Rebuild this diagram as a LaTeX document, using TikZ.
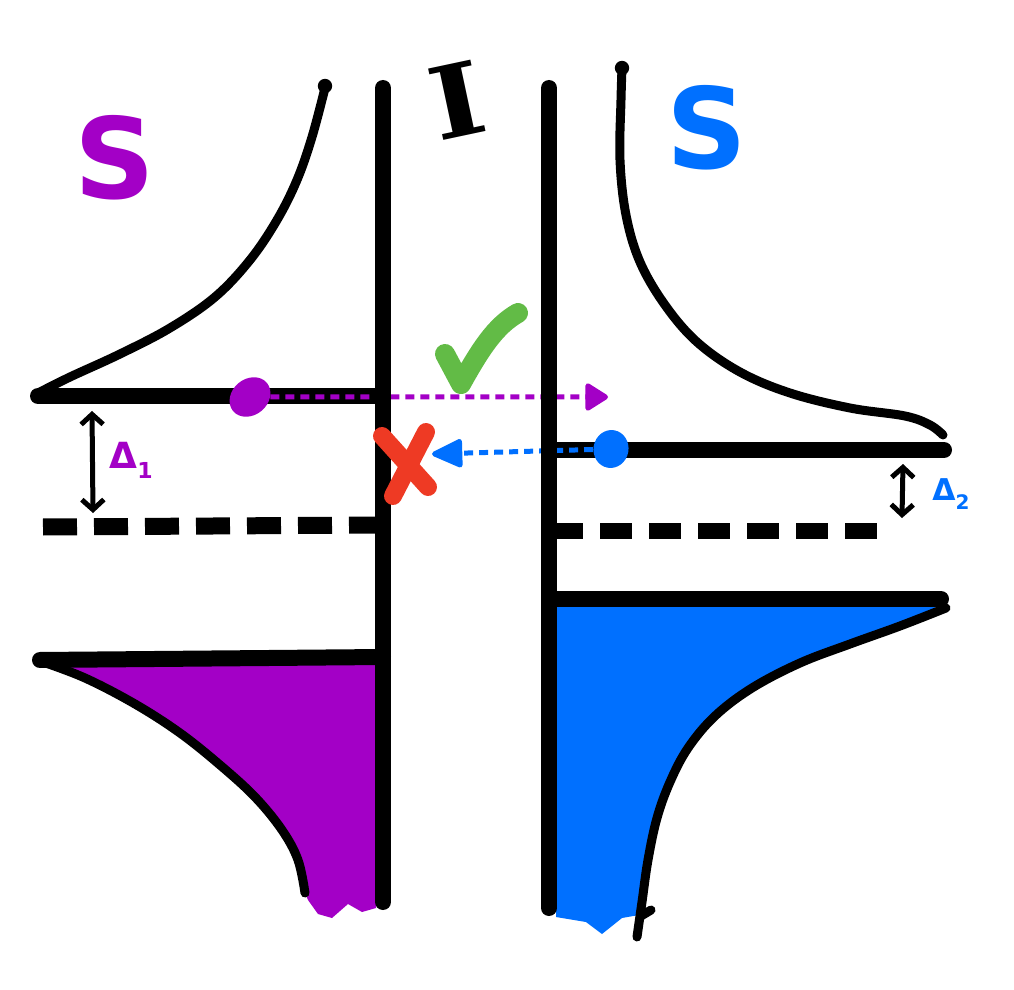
\documentclass[tikz,border=0pt]{standalone}
\usepackage{fontspec}
\usetikzlibrary{arrows.meta,shapes.geometric}
\newfontfamily\dvsans{DejaVu Sans}
\newfontfamily\dvserif{DejaVu Serif}
\definecolor{pur}{RGB}{163,0,198}
\definecolor{blu}{RGB}{0,112,255}
\definecolor{grn}{RGB}{98,187,70}
\definecolor{rd}{RGB}{238,58,36}
\tikzset{
 thickline/.style={line width=8pt, line cap=round, line join=round},
 thinline/.style={line width=4.5pt, line cap=round, line join=round},
 fermi/.style={line width=8.5pt},
 gaparrow/.style={line width=2.5pt, {Straight Barb[length=5pt,width=11pt]}-{Straight Barb[length=5pt,width=11pt]}},
 tunnel/.style={line width=2.5pt, dash pattern=on 4.5pt off 3pt},
 handmark/.style={line cap=round, line join=round},
 dotshape/.style={ellipse, inner sep=0pt, draw=none},
 biglabel/.style={inner sep=0pt, font=\dvsans\bfseries\fontsize{56}{60}\selectfont},
 gaplabel/.style={inner sep=0pt, font=\dvsans\bfseries\fontsize{18}{20}\selectfont},
}
\begin{document}
\begin{tikzpicture}[x=0.5pt,y=-0.5pt]
\useasboundingbox (0,0) rectangle (1014,990);
\fill[white] (0,0) rectangle (1014,990);

% filled (occupied) states
\fill[pur] (70,667) -- (376,664) -- (376,908) -- (362,912) -- (348,904) -- (332,918) -- (318,914) -- (308,900)
  -- plot[smooth,tension=0.6] coordinates {(305,893) (298,860) (282,830) (255,797) (220,765) (180,733) (135,704) (85,678) (70,671)} -- cycle;
\fill[blu] (556,603) -- (935,605)
  -- plot[smooth,tension=0.6] coordinates {(935,612) (900,626) (850,644) (800,663) (752,688) (715,716) (688,748) (670,782) (657,818) (648,860) (642,902) (639,915)}
  -- (622,918) -- (602,934) -- (586,922) -- (556,917) -- cycle;

% density of states curves
\draw[thinline] plot[smooth, tension=0.6] coordinates {(325,88) (312,137) (297,180) (277,220) (250,260) (215,297) (170,328) (120,354) (70,377) (40,392)};
\fill (325,86) circle (3.6pt);
\draw[thinline] plot[smooth, tension=0.6] coordinates {(622,68) (621,100) (620,160) (626,215) (640,262) (665,305) (697,342) (740,372) (790,393) (850,408) (905,416) (930,425) (943,435)};
\fill (622,68) circle (3.6pt);
\draw[thinline] plot[smooth, tension=0.6] coordinates {(40,661) (85,678) (135,704) (180,733) (220,765) (255,797) (282,830) (298,860) (305,893)};
\draw[thinline] plot[smooth, tension=0.6] coordinates {(946,608) (900,626) (850,644) (800,663) (752,688) (715,716) (688,748) (670,782) (657,818) (648,860) (642,902) (637,937)};
\draw[thinline] (641,916) -- (651,910);

% gap edges
\draw[thickline] (38,396) -- (383,396);
\draw[thickline] (40,660) -- (383,657);
\draw[thickline] (549,450) -- (944,450);
\draw[thickline] (549,599) -- (941,599);

% Fermi levels
\draw[fermi, dash pattern=on 17pt off 8.5pt] (43,527) -- (383,525);
\draw[fermi, line width=8pt, dash pattern=on 16pt off 8.5pt] (551,531) -- (878,531);

% gap arrows
\coordinate (d1top) at (92,411);
\coordinate (d1bot) at (93,513);
\draw[gaparrow] (d1top) -- (d1bot);
\coordinate (d2top) at (903,464);
\coordinate (d2bot) at (902,518);
\draw[gaparrow] (d2top) -- (d2bot);

% tunnelling arrows
\node[dotshape, fill=pur, minimum width=22pt, minimum height=18pt, rotate=40] (pdot) at (250,397) {};
\coordinate (ptip) at (608,397);
\draw[tunnel, pur, -{Triangle[length=12.5pt,width=15pt,round]}] (pdot) -- (ptip);
\node[dotshape, fill=blu, minimum width=19pt, minimum height=17.5pt, rotate=80] (bdot) at (611,449) {};
\coordinate (btip) at (432,454);
\draw[tunnel, blu, -{Triangle[length=17pt,width=15pt,round]}] (bdot) -- (btip);

% insulator barrier walls
\draw[thickline] (383,88) -- (383,902);
\draw[thickline] (549,88) -- (549,908);

% marks
\draw[handmark, rd, line width=9pt] (382,436) -- (428,487);
\draw[handmark, rd, line width=9pt] (426,432) -- (393,496);
\draw[handmark, grn, line width=10pt] (445,354) -- (461,384) .. controls (480,350) and (495,326) .. (518,313);

% labels
\node[biglabel, text=pur] (sleft) at (115,158) {S};
\node[biglabel, text=blu] (sright) at (707,128) {S};
\node[inner sep=0pt, font=\dvserif\bfseries\fontsize{50}{54}\selectfont, rotate=12, xscale=1.15] (ilabel) at (457,100) {I};
\node[gaplabel, text=pur] (d1) at (131,460) {Δ\raisebox{-0.5ex}{\fontsize{11}{12}\selectfont 1}};
\node[gaplabel, text=blu, font=\dvsans\bfseries\fontsize{15}{17}\selectfont] (d2) at (951,494) {Δ\raisebox{-0.5ex}{\fontsize{10}{11}\selectfont 2}};
\end{tikzpicture}
\end{document}
